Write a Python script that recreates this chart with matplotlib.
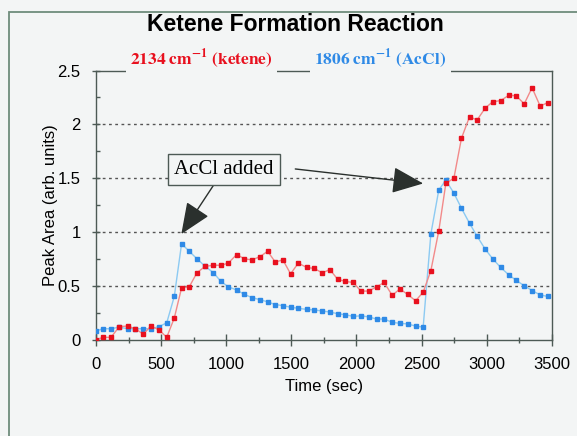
import matplotlib
matplotlib.use("Agg")
import matplotlib.pyplot as plt
from matplotlib.patches import Rectangle
from matplotlib.ticker import MultipleLocator

# time of each spectrum (sec)
time_s = [0, 56, 115, 179, 243, 302, 363, 422, 484, 543, 601, 657, 716, 775, 838, 902,
          959, 1016, 1080, 1139, 1197, 1259, 1318, 1376, 1435, 1494, 1553, 1617, 1675,
          1737, 1796, 1855, 1914, 1975, 2034, 2095, 2154, 2213, 2274, 2333, 2392, 2454,
          2512, 2571, 2632, 2686, 2748, 2806, 2868, 2926, 2988, 3046, 3107, 3170, 3226,
          3288, 3348, 3410, 3467]

# 2134 cm-1 band (ketene)
ketene = [0.0, 0.02, 0.02, 0.12, 0.125, 0.10, 0.05, 0.125, 0.09, 0.02, 0.20, 0.48, 0.49,
          0.62, 0.68, 0.69, 0.69, 0.71, 0.79, 0.75, 0.74, 0.77, 0.82, 0.72, 0.74, 0.61,
          0.71, 0.67, 0.66, 0.62, 0.65, 0.56, 0.54, 0.53, 0.45, 0.45, 0.49, 0.53, 0.41,
          0.47, 0.42, 0.36, 0.44, 0.64, 1.01, 1.45, 1.50, 1.87, 2.07, 2.04, 2.15, 2.21,
          2.22, 2.27, 2.265, 2.19, 2.34, 2.17, 2.20]

# 1806 cm-1 band (AcCl)
accl = [0.08, 0.10, 0.10, 0.115, 0.10, 0.10, 0.10, 0.10, 0.12, 0.155, 0.40, 0.89, 0.82,
        0.75, 0.68, 0.62, 0.54, 0.49, 0.46, 0.42, 0.39, 0.37, 0.35, 0.325, 0.315, 0.30,
        0.29, 0.28, 0.275, 0.265, 0.255, 0.24, 0.23, 0.215, 0.22, 0.21, 0.19, 0.19, 0.16,
        0.15, 0.145, 0.125, 0.115, 0.98, 1.39, 1.48, 1.36, 1.22, 1.08, 0.96, 0.84, 0.75,
        0.67, 0.60, 0.55, 0.50, 0.455, 0.415, 0.40]

bg = '#f3f5f5'
plt.rcParams['font.family'] = ['Liberation Sans', 'DejaVu Sans']
plt.rcParams['mathtext.fontset'] = 'stix'

fig = plt.figure(figsize=(5.77, 4.36), dpi=100, facecolor=bg)
ax = fig.add_axes([0.1664, 0.2213, 0.79, 0.617], facecolor=bg)

# outer frame of the slide
fig.patches.append(Rectangle((0.0156, -0.1), 1.2, 1.0725, transform=fig.transFigure,
                             fill=False, ec='#6f8c7c', lw=1.3))

ax.plot(time_s, accl, color='#8ccaf2', lw=1, marker='s', ms=3.4,
        mfc='#2f8ae6', mec='#2f8ae6', zorder=3)
ax.plot(time_s, ketene, color='#f28a8a', lw=1, marker='s', ms=3.4,
        mfc='#e8101e', mec='#e8101e', zorder=4)

ax.set_xlim(0, 3500)
ax.set_ylim(0, 2.5)
ax.xaxis.set_major_locator(MultipleLocator(500))
ax.xaxis.set_minor_locator(MultipleLocator(250))
ax.yaxis.set_major_locator(MultipleLocator(0.5))
ax.yaxis.set_minor_locator(MultipleLocator(0.25))
ax.set_yticks([0, 0.5, 1, 1.5, 2, 2.5])
ax.set_yticklabels(['0', '0.5', '1', '1.5', '2', '2.5'])

for gy in [0.5, 1.0, 1.5, 2.0]:
    ax.axhline(gy, color='#555555', lw=1, ls=(0, (2, 2.5)), zorder=1)

for s in ax.spines.values():
    s.set_color('#4d5a55')
    s.set_linewidth(1)

ax.tick_params(axis='x', which='major', direction='inout', length=9, width=1,
               color='#4d5a55', labelsize=12, pad=8)
ax.tick_params(axis='x', which='minor', direction='inout', length=5, width=1, color='#4d5a55')
ax.tick_params(axis='y', which='major', direction='inout', length=6, width=1,
               color='#4d5a55', labelsize=12, pad=8)
ax.tick_params(axis='y', which='minor', direction='in', length=3, width=1, color='#4d5a55')

ax.set_xlabel('Time (sec)', fontsize=12, labelpad=5)
ax.set_ylabel('Peak Area (arb. units)', fontsize=12, labelpad=0)

fig.text(0.512, 0.944, 'Ketene Formation Reaction', ha='center', va='center',
         fontsize=16.5, fontweight='bold')

# series labels sitting on the top frame line
fig.text(0.349, 0.8383, r'$\mathbf{2134\ cm^{-1}\ (ketene)}$', ha='center', va='bottom',
         fontsize=12.5, color='#e8101e',
         bbox=dict(boxstyle='square,pad=0.25', fc=bg, ec='none'))
fig.text(0.659, 0.8383, r'$\mathbf{1806\ cm^{-1}\ (AcCl)}$', ha='center', va='bottom',
         fontsize=12.5, color='#2f8ae6',
         bbox=dict(boxstyle='square,pad=0.25', fc=bg, ec='none'))

# annotation with two arrows
arrow = dict(arrowstyle='-|>,head_length=1.3,head_width=0.55', color='#2a302d',
             lw=1, mutation_scale=15, shrinkA=0, shrinkB=0)
ax.annotate('AcCl added', xy=(655, 0.98), xytext=(982, 1.58),
            ha='center', va='center', fontsize=15, family='Liberation Serif',
            bbox=dict(boxstyle='square,pad=0.3', fc=bg, ec='#4d5a55', lw=1),
            arrowprops=arrow, zorder=6)
ax.annotate('', xy=(2512, 1.45), xytext=(1530, 1.585), arrowprops=arrow, zorder=6)

fig.savefig('out.png', dpi=100, facecolor=bg)
